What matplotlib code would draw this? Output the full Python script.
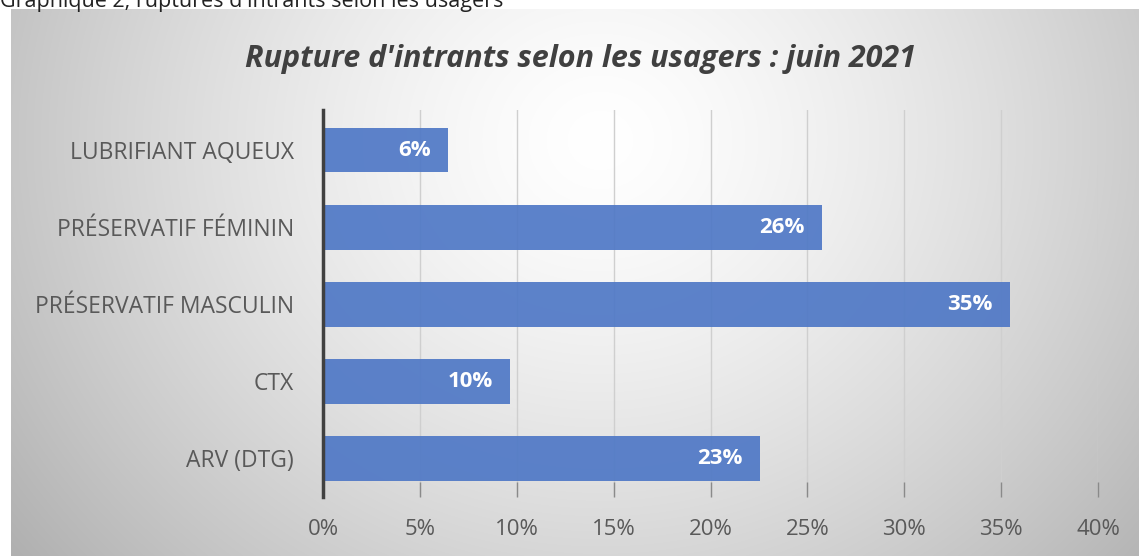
import numpy as np
import matplotlib
matplotlib.use("Agg")
import matplotlib.pyplot as plt
from matplotlib.ticker import FuncFormatter

plt.rcParams['font.family'] = ['Open Sans', 'DejaVu Sans']

categories = ['LUBRIFIANT AQUEUX', 'PRÉSERVATIF FÉMININ', 'PRÉSERVATIF MASCULIN', 'CTX', 'ARV (DTG)']
values = [6.45, 25.75, 35.45, 9.65, 22.55]
xticks = [0, 5, 10, 15, 20, 25, 30, 35, 40]

title = "Rupture d'intrants selon les usagers : juin 2021"
caption = "Graphique 2, ruptures d'intrants selon les usagers"

W, H = 1139, 556
fig = plt.figure(figsize=(W / 100, H / 100), dpi=100, facecolor='white')

# fond du graphique : degrade radial gris -> blanc
box_l, box_t = 11, 9
bg = fig.add_axes([box_l / W, 0, 1 - box_l / W, (H - box_t) / H])
xx, yy = np.meshgrid(np.arange(box_l, W), np.arange(box_t, H))
d = np.sqrt(((xx - 600) / 620.0) ** 2 + ((yy - 140) / 560.0) ** 2)
shade = 1 - 0.24 * np.clip(d, 0, 1.2) ** 1.4
bg.imshow(np.dstack([shade] * 3), aspect='auto', interpolation='bilinear')
bg.set_axis_off()

# legende du document, coupee en haut comme dans l'original
fig.text(0.0, 1 - 7 / H, caption, fontsize=15.5, color='#222222', va='baseline', ha='left')

ax = fig.add_axes([323 / W, (H - 497) / H, (1098 - 323) / W, (497 - 110) / H])
ax.patch.set_alpha(0)

y = np.arange(len(categories))
bars = ax.barh(y, values, height=0.58, color='#4f78c6', alpha=0.92, zorder=2)
for rect, v in zip(bars, values):
    ax.annotate(f"{v:.0f}%", (rect.get_width(), rect.get_y() + rect.get_height() / 2),
                xytext=(-17, 0), textcoords='offset pixels', ha='right', va='center',
                color='white', fontsize=16, fontweight='bold', zorder=3)

ax.set_xlim(0, 40)
ax.set_ylim(len(categories) - 0.5, -0.52)
ax.set_xticks(xticks)
ax.xaxis.set_major_formatter(FuncFormatter(lambda v, p: f"{v:.0f}%"))
ax.set_yticks(y)
ax.set_yticklabels(categories)

ax.grid(axis='x', color='#cfcfcf', linewidth=1, zorder=0)
ax.tick_params(axis='x', direction='in', length=11, width=1, color='#8a8a8a',
               labelsize=16, labelcolor='#595959', pad=16)
ax.tick_params(axis='y', length=0, labelsize=16.5, labelcolor='#595959', pad=21)

for s in ['top', 'right', 'bottom']:
    ax.spines[s].set_visible(False)
ax.spines['left'].set_color('#404040')
ax.spines['left'].set_linewidth(2.5)
ax.spines['left'].set_zorder(4)

fig.text(580 / W, 1 - 59 / H, title, fontsize=22, fontweight='bold', fontstyle='italic',
         color='#404040', ha='center', va='center')

fig.savefig('out.png', dpi=100, facecolor='white')
